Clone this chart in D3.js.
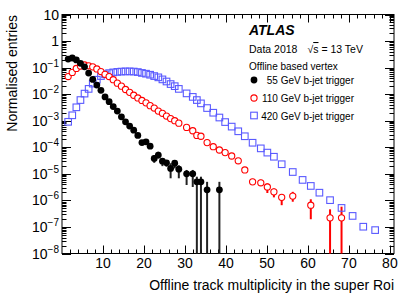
<!DOCTYPE html>
<html>
<head>
<meta charset="utf-8">
<script src="https://cdn.jsdelivr.net/npm/d3@7"></script>
<style>
  body { margin: 0; background: #fff; }
  text { font-family: "Liberation Sans", Arial, sans-serif; }
</style>
</head>
<body>
<svg id="chart" width="415" height="298"></svg>
<script>
// bin centres (track multiplicity) and normalised entries
const xBlack = [1.5, 2.5, 3.5, 4.5, 5.5, 6.5, 7.5, 8.5, 9.5, 10.5, 11.5, 12.5, 13.5, 14.5, 15.5, 16.5, 17.5, 18.5, 19.5, 20.5,
  21.5, 22.5, 23.5, 24.5, 25.5, 26.5, 27.5, 28.5, 30.4, 31.9, 32.9, 33.9, 35.4, 38.4];
const yBlack = [0.21, 0.23, 0.195, 0.145, 0.107, 0.062, 0.036, 0.022, 0.014, 0.0079, 0.0052, 0.0034, 0.0023, 0.0014, 9.1e-4, 6.3e-4,
  4.4e-4, 2.8e-4, 1.5e-4, 1.6e-4, 1.1e-4, 3.8e-5, 5.1e-5, 3.0e-5, 2.6e-5, 1.6e-5, 2.5e-5, 1.5e-5, 1.0e-5, 1.0e-5, 5.0e-6, 5.0e-6,
  2.5e-6, 2.5e-6];
// error bar ends (null = hidden under marker, 0 = down to axis)
const hiBlack = [null, null, null, null, null, null, null, null, null, null, null, null, null, null, null, null, null, null, null, null,
  null, 5.1e-5, 6.8e-5, 3.8e-5, 3.3e-5, 2.5e-5, 3.3e-5, 2.1e-5, 1.4e-5, 1.4e-5, 7.8e-6, 7.8e-6, 5.0e-6, 5.0e-6];
const loBlack = [null, null, null, null, null, null, null, null, null, null, null, null, null, null, null, null, null, null, null, null,
  null, 2.6e-5, 3.8e-5, 1.95e-5, 1.86e-5, 6.8e-6, 1.6e-5, 6.8e-6, 3.8e-6, 3.2e-6, 0, 0, 0, 0];

const xRed = [1.5, 2.5, 3.5, 4.5, 5.5, 6.5, 7.5, 8.5, 9.5, 10.5, 11.5, 12.5, 13.5, 14.5, 15.5, 16.5, 17.5, 18.5, 19.5, 20.5,
  21.5, 22.5, 23.5, 24.5, 25.5, 26.5, 27.5, 28.5, 30.4, 31.9, 32.9, 33.9, 35.4, 36.9, 38.4, 39.8, 41.4, 43.0, 44.6, 46.5,
  48.5, 50.1, 51.7, 53.6, 56.3, 60.7, 65.4, 68.2];
const yRed = [0.046, 0.066, 0.093, 0.115, 0.126, 0.117, 0.107, 0.089, 0.071, 0.056, 0.046, 0.035, 0.026, 0.020, 0.015, 0.0117,
  0.0091, 0.0072, 0.0058, 0.0047, 0.0037, 0.0030, 0.0023, 0.0019, 0.0015, 0.0012, 0.0010, 8.1e-4, 5.6e-4, 4.2e-4, 2.8e-4, 2.6e-4,
  1.5e-4, 1.05e-4, 7.9e-5, 6.3e-5, 4.7e-5, 3.1e-5, 1.4e-5, 5.0e-6, 4.6e-6, 3.2e-6, 2.1e-6, 1.3e-6, 1.45e-6, 6.6e-7, 2.2e-7, 2.2e-7];
const hiRed = [null, null, null, null, null, null, null, null, null, null, null, null, null, null, null, null, null, null, null, null,
  null, null, null, null, null, null, null, null, null, null, null, null, null, null, null, null, null, null, null, 6.5e-6,
  6.0e-6, 4.4e-6, 2.8e-6, 1.74e-6, 2.1e-6, 1.1e-6, 4.6e-7, 5.8e-7];
const loRed = [null, null, null, null, null, null, null, null, null, null, null, null, null, null, null, null, null, null, null, null,
  null, null, null, null, null, null, null, null, null, null, null, null, null, null, null, null, null, null, null, 3.8e-6,
  3.5e-6, 1.9e-6, 1.3e-6, 6.6e-7, 8.9e-7, 1.95e-7, 0, 0];

const xBlue = [1.5, 2.5, 3.5, 4.5, 5.5, 6.5, 7.5, 8.5, 9.5, 10.5, 11.5, 12.5, 13.5, 14.5, 15.5, 16.5, 17.5, 18.5, 19.5, 20.5,
  21.5, 22.5, 23.5, 24.5, 25.5, 26.5, 27.5, 28.5, 30.4, 31.9, 32.9, 33.9, 35.4, 36.9, 38.4, 39.8, 41.4, 43.0, 44.6, 46.5,
  48.5, 50.1, 51.7, 53.6, 56.3, 58.7, 60.7, 62.8, 65.4, 68.2, 70.9, 73.5, 76.4];
const yBlue = [9.1e-4, 1.6e-3, 3.2e-3, 6.0e-3, 0.0105, 0.0158, 0.025, 0.035, 0.048, 0.056, 0.062, 0.066, 0.069, 0.071, 0.072, 0.072,
  0.071, 0.068, 0.063, 0.059, 0.054, 0.048, 0.043, 0.036, 0.030, 0.024, 0.020, 0.0158, 0.0107, 0.0079, 0.0060, 0.0045, 0.0030,
  0.0020, 0.00132, 8.9e-4, 6.0e-4, 4.0e-4, 2.6e-4, 1.48e-4, 9.1e-5, 6.3e-5, 4.4e-5, 2.3e-5, 1.17e-5, 5.9e-6, 3.5e-6, 1.95e-6,
  1.02e-6, 5.2e-7, 2.6e-7, 1.02e-7, 7.6e-8];

const xTickLabels = [10, 20, 30, 40, 50, 60, 70, 80];
const yDecades = [1e-8, 1e-7, 1e-6, 1e-5, 1e-4, 1e-3, 1e-2, 1e-1, 1, 10];
const legendLabels = ["55 GeV b-jet trigger", "110 GeV b-jet trigger", "420 GeV b-jet trigger"];

const svg = d3.select("#chart");
const pLeft = 62, pRight = 394, pTop = 14.5, pBottom = 253.5;

const x = d3.scaleLinear().domain([0, 81]).range([pLeft, pRight]);
const y = d3.scaleLog().domain([1e-8, 10]).range([pBottom, pTop]);

const RED = "#ff0000", BLUE = "#5a5aff";

// frame
svg.append("rect")
    .attr("x", pLeft).attr("y", pTop)
    .attr("width", pRight - pLeft).attr("height", pBottom - pTop)
    .attr("fill", "none").attr("stroke", "#000").attr("stroke-width", 1);

// x ticks, bottom and top, pointing inwards
const ticks = svg.append("g").attr("stroke", "#000").attr("stroke-width", 1);
x.ticks(40).forEach(t => {
    if (t <= 0) return;
    const len = t % 10 === 0 ? 8 : 4;
    const px = Math.round(x(t)) + 0.5;
    ticks.append("line").attr("x1", px).attr("x2", px).attr("y1", pBottom).attr("y2", pBottom - len);
    ticks.append("line").attr("x1", px).attr("x2", px).attr("y1", pTop).attr("y2", pTop + len);
});

// y ticks, left and right
y.ticks().forEach(t => {
    const major = Math.abs(Math.log10(t) - Math.round(Math.log10(t))) < 1e-6;
    const len = major ? 9 : 4.5;
    const py = Math.round(y(t)) + 0.5;
    ticks.append("line").attr("x1", pLeft).attr("x2", pLeft + len).attr("y1", py).attr("y2", py);
    ticks.append("line").attr("x1", pRight).attr("x2", pRight - len).attr("y1", py).attr("y2", py);
});

// x tick labels
svg.append("g").selectAll("text")
    .data(xTickLabels)
    .enter().append("text")
    .attr("x", d => x(d))
    .attr("y", 268)
    .attr("text-anchor", "middle")
    .attr("font-size", 14)
    .text(d => d);

// y tick labels: 10, 1, 10^-n
const yl = svg.append("g").selectAll("text")
    .data(yDecades)
    .enter().append("text")
    .attr("x", 59)
    .attr("y", d => y(d) + 5)
    .attr("text-anchor", "end")
    .attr("font-size", 14);
yl.each(function (d) {
    const e = Math.round(Math.log10(d));
    const t = d3.select(this);
    if (e === 0) { t.text("1"); return; }
    if (e === 1) { t.text("10"); return; }
    t.append("tspan").text("10");
    t.append("tspan").attr("font-size", 10).attr("dy", -6).text("\u2212" + (-e));
});

// axis titles
svg.append("text")
    .attr("transform", "translate(17,15) rotate(-90)")
    .attr("text-anchor", "end")
    .attr("font-size", 14)
    .text("Normalised entries");

svg.append("text")
    .attr("x", pRight).attr("y", 290)
    .attr("text-anchor", "end")
    .attr("font-size", 14)
    .text("Offline track multiplicity in the super Roi");

// error bars
function errBars(xs, ys, his, los, colour) {
    const g = svg.append("g").attr("stroke", colour).attr("stroke-width", 2);
    xs.forEach((xv, i) => {
        if (his[i] === null) return;
        const yTop = y(his[i]);
        const yBot = los[i] === 0 ? pBottom : y(los[i]);
        g.append("line").attr("x1", x(xv)).attr("x2", x(xv)).attr("y1", yTop).attr("y2", yBot);
    });
}
errBars(xBlack, yBlack, hiBlack, loBlack, "#222");
errBars(xRed, yRed, hiRed, loRed, RED);

// blue open squares
svg.append("g").selectAll("rect")
    .data(xBlue.map((d, i) => [d, yBlue[i]]))
    .enter().append("rect")
    .attr("x", d => x(d[0]) - 3.3)
    .attr("y", d => y(d[1]) - 3.3)
    .attr("width", 6.6).attr("height", 6.6)
    .attr("fill", "none").attr("stroke", BLUE).attr("stroke-width", 1.1);

// red open circles
svg.append("g").selectAll("circle")
    .data(xRed.map((d, i) => [d, yRed[i]]))
    .enter().append("circle")
    .attr("cx", d => x(d[0]))
    .attr("cy", d => y(d[1]))
    .attr("r", 3.1)
    .attr("fill", "#fff").attr("stroke", RED).attr("stroke-width", 1.1);

// black dots
svg.append("g").selectAll("circle")
    .data(xBlack.map((d, i) => [d, yBlack[i]]))
    .enter().append("circle")
    .attr("cx", d => x(d[0]))
    .attr("cy", d => y(d[1]))
    .attr("r", 3.4)
    .attr("fill", "#000");

// labels and legend
svg.append("text")
    .attr("x", 249).attr("y", 35)
    .attr("font-size", 14).attr("font-weight", "bold").attr("font-style", "italic")
    .text("ATLAS");

const lumi = svg.append("text")
    .attr("x", 249).attr("y", 53)
    .attr("font-size", 10.5);
lumi.append("tspan").text("Data 2018");
lumi.append("tspan").attr("dx", 10).text("\u221A");
lumi.append("tspan").attr("text-decoration", "overline").text("s");
lumi.append("tspan").text(" = 13 TeV");

svg.append("text")
    .attr("x", 249).attr("y", 70)
    .attr("font-size", 10)
    .text("Offline based vertex");

const legY = [80, 98, 115.5];
svg.append("circle").attr("cx", 254).attr("cy", legY[0]).attr("r", 3.4).attr("fill", "#000");
svg.append("circle").attr("cx", 254).attr("cy", legY[1]).attr("r", 3.1)
    .attr("fill", "none").attr("stroke", RED).attr("stroke-width", 1.1);
svg.append("rect").attr("x", 254 - 3.3).attr("y", legY[2] - 3.3).attr("width", 6.6).attr("height", 6.6)
    .attr("fill", "none").attr("stroke", BLUE).attr("stroke-width", 1.1);

svg.append("g").selectAll("text")
    .data(legendLabels)
    .enter().append("text")
    .attr("x", 354)
    .attr("y", (d, i) => legY[i] + 4)
    .attr("text-anchor", "end")
    .attr("font-size", 10)
    .text(d => d);
</script>
</body>
</html>
